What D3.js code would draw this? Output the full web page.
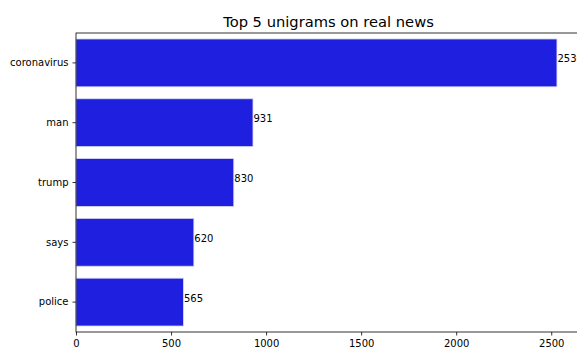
<!DOCTYPE html>
<html>
<head>
<meta charset="utf-8">
<script src="https://cdn.jsdelivr.net/npm/d3@7"></script>
<style>
  body { margin: 0; background: #fff; }
  text { font-family: "DejaVu Sans", sans-serif; fill: #000; }
</style>
</head>
<body>
<div id="wrapper"></div>
<script>
// data
const words = ["coronavirus", "man", "trump", "says", "police"];
const counts = [2530, 931, 830, 620, 565];
const xTicks = [0, 500, 1000, 1500, 2000, 2500];

const dimensions = {
    width: 577,
    height: 349,
    margin: { top: 33, right: -4, bottom: 17, left: 76 }
};
dimensions.boundedWidth = dimensions.width - dimensions.margin.left - dimensions.margin.right;
dimensions.boundedHeight = dimensions.height - dimensions.margin.top - dimensions.margin.bottom;

const svg = d3.select("#wrapper").append("svg")
    .attr("width", dimensions.width)
    .attr("height", dimensions.height);

const bounds = svg.append("g")
    .attr("transform", `translate(${dimensions.margin.left},${dimensions.margin.top})`);

// scales
const xScale = d3.scaleLinear()
    .domain([0, d3.max(counts) * 1.05])
    .range([0, dimensions.boundedWidth]);
const yScale = d3.scaleBand()
    .domain(words)
    .range([0, dimensions.boundedHeight])
    .paddingInner(0.2)
    .paddingOuter(0.1);

// bars
bounds.selectAll("rect.bar")
    .data(words)
    .join("rect")
    .attr("class", "bar")
    .attr("x", 0)
    .attr("y", d => yScale(d))
    .attr("width", (d, i) => xScale(counts[i]))
    .attr("height", yScale.bandwidth())
    .attr("fill", "#1f1fe0")
    .attr("stroke", "#d8d8f4")
    .attr("stroke-width", 0.8);

// value labels (sit a little above the bar centre, as in the original)
bounds.selectAll("text.val")
    .data(words)
    .join("text")
    .attr("class", "val")
    .attr("x", (d, i) => xScale(counts[i]) + 0.5)
    .attr("y", d => yScale(d) + yScale.bandwidth() / 2 - 4)
    .attr("dy", "0.35em")
    .style("font-size", "10px")
    .text((d, i) => counts[i]);

// axes
const xAxis = bounds.append("g")
    .attr("transform", `translate(0,${dimensions.boundedHeight})`)
    .call(d3.axisBottom(xScale).tickValues(xTicks).tickFormat(d3.format("d")).tickSize(3.5).tickPadding(4));
const yAxis = bounds.append("g")
    .call(d3.axisLeft(yScale).tickSize(3.5).tickPadding(4));
[xAxis, yAxis].forEach(a => {
    a.select(".domain").remove();
    a.selectAll("text").style("font-size", "10px").attr("fill", "#000");
    a.selectAll("line").attr("stroke", "#000").attr("stroke-width", 0.8);
});

// frame
bounds.append("rect")
    .attr("width", dimensions.boundedWidth)
    .attr("height", dimensions.boundedHeight)
    .attr("fill", "none")
    .attr("stroke", "#000")
    .attr("stroke-width", 0.8);

// title
svg.append("text")
    .attr("x", dimensions.margin.left + dimensions.boundedWidth / 2)
    .attr("y", dimensions.margin.top - 6)
    .attr("text-anchor", "middle")
    .style("font-size", "14.7px")
    .text("Top 5 unigrams on real news");
</script>
</body>
</html>
